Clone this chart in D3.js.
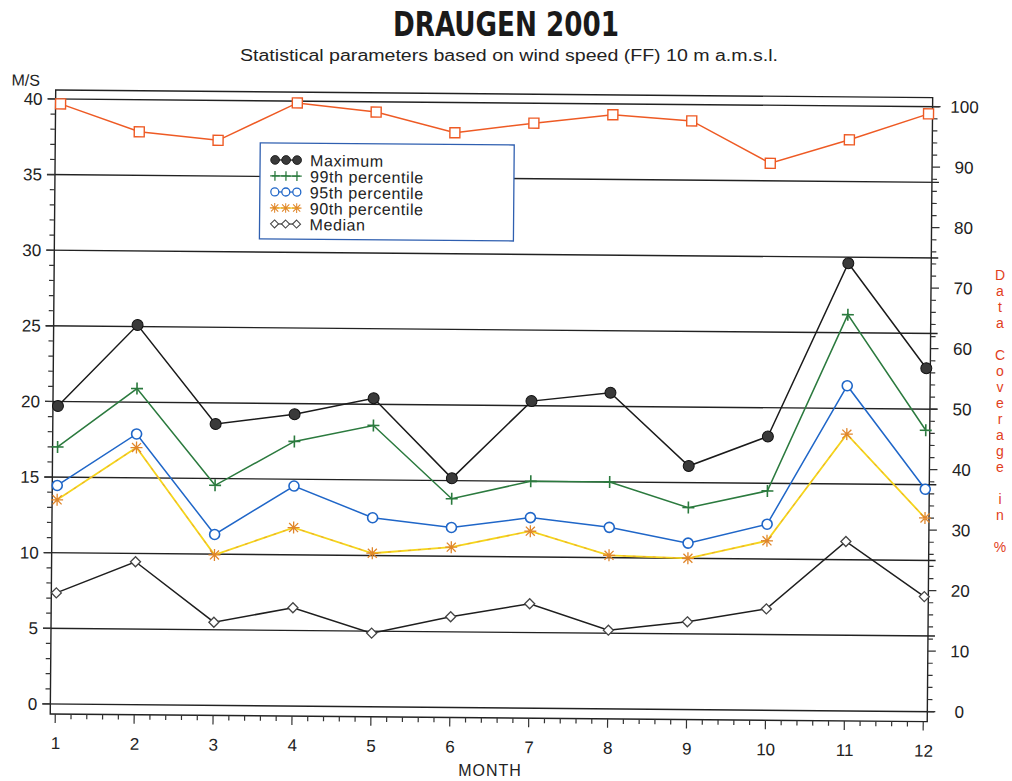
<!DOCTYPE html>
<html>
<head>
<meta charset="utf-8">
<script src="https://cdn.jsdelivr.net/npm/d3@7"></script>
<style>
  body { margin: 0; background: #fff; }
  svg { display: block; }
  text { font-family: "Liberation Sans", Arial, sans-serif; fill: #222; }
</style>
</head>
<body>
<svg id="chart" width="1012" height="781"></svg>
<script>
// chart values
var months = [1, 2, 3, 4, 5, 6, 7, 8, 9, 10, 11, 12];
var maximum = [19.7, 25.1, 18.6, 19.3, 20.4, 15.15, 20.3, 20.9, 16.1, 18.1, 29.6, 22.7];
var p99 = [17.0, 20.9, 14.55, 17.5, 18.6, 13.8, 15.0, 15.0, 13.35, 14.5, 26.2, 18.6];
var p95 = [14.45, 17.9, 11.3, 14.55, 12.5, 11.9, 12.6, 12.0, 11.0, 12.3, 21.5, 14.7];
var p90 = [13.5, 17.0, 9.95, 11.8, 10.15, 10.6, 11.7, 10.15, 10.0, 11.2, 18.3, 12.8];
var median = [7.35, 9.45, 5.5, 6.5, 4.87, 6.0, 6.9, 5.2, 5.8, 6.7, 11.2, 7.6];
var coverage = [99.2, 94.7, 93.4, 99.7, 98.3, 95.0, 96.7, 98.2, 97.3, 90.4, 94.4, 98.8];

var leftTicks = [0, 5, 10, 15, 20, 25, 30, 35, 40];
var rightTicks = [0, 10, 20, 30, 40, 50, 60, 70, 80, 90, 100];
var legendNames = ['Maximum', '99th percentile', '95th percentile', '90th percentile', 'Median'];

var svg = d3.select('#chart');

var x = d3.scaleLinear().domain([1, 12]).range([58, 926]);
var y = d3.scaleLinear().domain([0, 40]).range([704, 99]);
var y2 = d3.scaleLinear().domain([0, 100]).range([704, 99]);

var frameL = 53, frameR = 930, frameT = 90, frameB = 714;

// titles
svg.append('text')
  .attr('x', 506).attr('y', 36)
  .attr('text-anchor', 'middle')
  .style('font-family', '"Liberation Sans Narrow", "DejaVu Sans Condensed", sans-serif')
  .style('font-weight', 'bold')
  .style('font-size', '33px')
  .style('fill', '#1a1a1a')
  .attr('textLength', 226).attr('lengthAdjust', 'spacingAndGlyphs')
  .text('DRAUGEN 2001');

svg.append('text')
  .attr('x', 509).attr('y', 61)
  .attr('text-anchor', 'middle')
  .style('font-size', '16px')
  .attr('textLength', 538).attr('lengthAdjust', 'spacingAndGlyphs')
  .text('Statistical parameters based on wind speed (FF) 10 m a.m.s.l.');

// the scan is slightly tilted, so is the plot
var g = svg.append('g').attr('transform', 'rotate(0.5, 55, 400)');

// grid lines
g.selectAll('line.grid')
  .data(leftTicks)
  .enter().append('line')
  .attr('class', 'grid')
  .attr('x1', frameL - 8).attr('x2', frameR + 7)
  .attr('y1', function(d) { return y(d); })
  .attr('y2', function(d) { return y(d); })
  .attr('stroke', '#222').attr('stroke-width', 1.4);

// frame
g.append('rect')
  .attr('x', frameL).attr('y', frameT)
  .attr('width', frameR - frameL).attr('height', frameB - frameT)
  .style('fill', 'none').attr('stroke', '#222').attr('stroke-width', 1.4);

// left axis
var leftAxis = d3.axisLeft(y).tickValues(leftTicks).tickSize(0).tickPadding(13);
var gl = g.append('g').attr('transform', 'translate(' + frameL + ',0)').call(leftAxis);
gl.select('.domain').remove();
gl.selectAll('text').style('font-size', '17px').style('font-family', '"Liberation Sans", Arial, sans-serif').style('fill', '#222');
g.selectAll('line.lminor')
  .data(d3.range(0, 41))
  .enter().append('line')
  .attr('class', 'lminor')
  .attr('x1', frameL).attr('x2', function(d) { return d % 5 === 0 ? frameL - 8 : frameL - 5; })
  .attr('y1', function(d) { return y(d); }).attr('y2', function(d) { return y(d); })
  .attr('stroke', '#333').attr('stroke-width', 1.2);

g.append('text')
  .attr('x', 23).attr('y', 86)
  .attr('text-anchor', 'middle')
  .style('font-size', '16px')
  .text('M/S');

// right axis
var rightAxis = d3.axisRight(y2).tickValues(rightTicks).tickSize(0).tickPadding(32);
var gr = g.append('g').attr('transform', 'translate(' + frameR + ',0)').call(rightAxis);
gr.select('.domain').remove();
gr.selectAll('text').attr('text-anchor', 'middle').style('font-size', '17px')
  .style('font-family', '"Liberation Sans", Arial, sans-serif').style('fill', '#222');
g.selectAll('line.rminor')
  .data(d3.range(0, 101, 2))
  .enter().append('line')
  .attr('class', 'rminor')
  .attr('x1', frameR).attr('x2', function(d) { return d % 10 === 0 ? frameR + 8 : frameR + 5; })
  .attr('y1', function(d) { return y2(d); }).attr('y2', function(d) { return y2(d); })
  .attr('stroke', '#333').attr('stroke-width', 1.2);

// bottom axis
var bottomAxis = d3.axisBottom(x).tickValues(months).tickSize(0).tickPadding(23)
  .tickFormat(d3.format('d'));
var gb = g.append('g').attr('transform', 'translate(0,' + frameB + ')').call(bottomAxis);
gb.select('.domain').remove();
gb.selectAll('text').style('font-size', '17px').style('font-family', '"Liberation Sans", Arial, sans-serif').style('fill', '#222');
g.selectAll('line.bminor')
  .data(d3.range(0, 56))
  .enter().append('line')
  .attr('class', 'bminor')
  .attr('x1', function(d) { return x(1 + d * 0.2); })
  .attr('x2', function(d) { return x(1 + d * 0.2); })
  .attr('y1', frameB)
  .attr('y2', function(d) { return d % 5 === 0 ? frameB + 9 : frameB + 5; })
  .attr('stroke', '#333').attr('stroke-width', 1.2);

svg.append('text')
  .attr('x', 490).attr('y', 776)
  .attr('text-anchor', 'middle')
  .style('font-size', '16px')
  .style('letter-spacing', '1px')
  .text('MONTH');

// red side label, written top to bottom
svg.append('text')
  .attr('x', 1000).attr('y', 267)
  .style('writing-mode', 'vertical-rl')
  .style('text-orientation', 'upright')
  .style('white-space', 'pre')
  .style('font-size', '14px')
  .style('fill', '#e2401c')
  .text('Data Coverage in %');

// marker helpers
function drawMarker(sel, kind, color) {
  if (kind === 'dot') {
    sel.append('circle').attr('r', 5.5).style('fill', '#3a3a3a').attr('stroke', '#111').attr('stroke-width', 1);
  } else if (kind === 'plus') {
    sel.append('path').attr('d', 'M-6,0H6M0,-6V6').attr('stroke', color).attr('stroke-width', 1.6).style('fill', 'none');
  } else if (kind === 'ring') {
    sel.append('circle').attr('r', 5).style('fill', 'white').attr('stroke', color).attr('stroke-width', 1.6);
  } else if (kind === 'star') {
    sel.append('path').attr('d', 'M-6,0H6M0,-6V6M-4.5,-4.5L4.5,4.5M-4.5,4.5L4.5,-4.5')
      .attr('stroke', color).attr('stroke-width', 1.3).style('fill', 'none');
  } else if (kind === 'diamond') {
    sel.append('path').attr('d', 'M0,-5L5,0L0,5L-5,0Z').style('fill', 'white').attr('stroke', color).attr('stroke-width', 1.3);
  } else if (kind === 'square') {
    sel.append('rect').attr('x', -5).attr('y', -5).attr('width', 10).attr('height', 10)
      .style('fill', 'white').attr('stroke', color).attr('stroke-width', 1.4);
  }
}

var series = [
  { name: 'Coverage', values: coverage, scale: y2, line: '#ee5a24', mark: '#ee5a24', kind: 'square' },
  { name: 'Median', values: median, scale: y, line: '#1e1e1e', mark: '#444', kind: 'diamond' },
  { name: '90th percentile', values: p90, scale: y, line: '#f2cf1a', mark: '#e0862a', kind: 'star' },
  { name: '95th percentile', values: p95, scale: y, line: '#1f66c8', mark: '#1f66c8', kind: 'ring' },
  { name: '99th percentile', values: p99, scale: y, line: '#2b7a3e', mark: '#2b7a3e', kind: 'plus' },
  { name: 'Maximum', values: maximum, scale: y, line: '#1a1a1a', mark: '#1a1a1a', kind: 'dot' }
];

series.forEach(function(s) {
  var line = d3.line()
    .x(function(d, i) { return x(months[i]); })
    .y(function(d) { return s.scale(d); });
  if (s.kind === 'star') {
    g.append('path').attr('d', line(s.values))
      .style('fill', 'none').attr('stroke', '#f5d61c').attr('stroke-width', 1.8);
    g.append('path').attr('d', line(s.values))
      .style('fill', 'none').attr('stroke', '#e8963a').attr('stroke-width', 0.8)
      .attr('stroke-dasharray', '3,7');
  } else {
    g.append('path').attr('d', line(s.values))
      .style('fill', 'none').attr('stroke', s.line).attr('stroke-width', 1.5);
  }
  var pts = g.selectAll('g.pt-' + s.kind)
    .data(s.values)
    .enter().append('g')
    .attr('class', 'pt-' + s.kind)
    .attr('transform', function(d, i) { return 'translate(' + x(months[i]) + ',' + s.scale(d) + ')'; });
  drawMarker(pts, s.kind, s.mark);
});

// legend
var legKinds = ['dot', 'plus', 'ring', 'star', 'diamond'];
var legColors = ['#1a1a1a', '#2b7a3e', '#1f66c8', '#e0862a', '#444'];
var leg = g.append('g').attr('transform', 'translate(258,141)');
leg.append('rect')
  .attr('width', 254).attr('height', 96)
  .style('fill', 'white').attr('stroke', '#2f5fb0').attr('stroke-width', 1.3);
var rows = leg.selectAll('g.row')
  .data(legendNames)
  .enter().append('g')
  .attr('class', 'row')
  .attr('transform', function(d, i) { return 'translate(0,' + (17 + i * 16) + ')'; });
rows.append('line')
  .attr('x1', 12).attr('x2', 40).attr('y1', 0).attr('y2', 0)
  .attr('stroke', function(d, i) { return i === 3 ? '#f5d61c' : legColors[i]; })
  .attr('stroke-width', 1.3);
rows.each(function(d, i) {
  var r = d3.select(this);
  [15, 26, 37].forEach(function(cx) {
    var m = r.append('g').attr('transform', 'translate(' + cx + ',0) scale(0.8)');
    drawMarker(m, legKinds[i], legColors[i]);
  });
});
// legend labels as one text block with a line per entry
leg.append('text')
  .style('font-size', '16px')
  .style('letter-spacing', '0.6px')
  .style('fill', '#222')
  .selectAll('tspan')
  .data(legendNames)
  .enter().append('tspan')
  .attr('x', 50)
  .attr('y', function(d, i) { return 23 + i * 16; })
  .text(function(d) { return d; });
</script>
</body>
</html>
